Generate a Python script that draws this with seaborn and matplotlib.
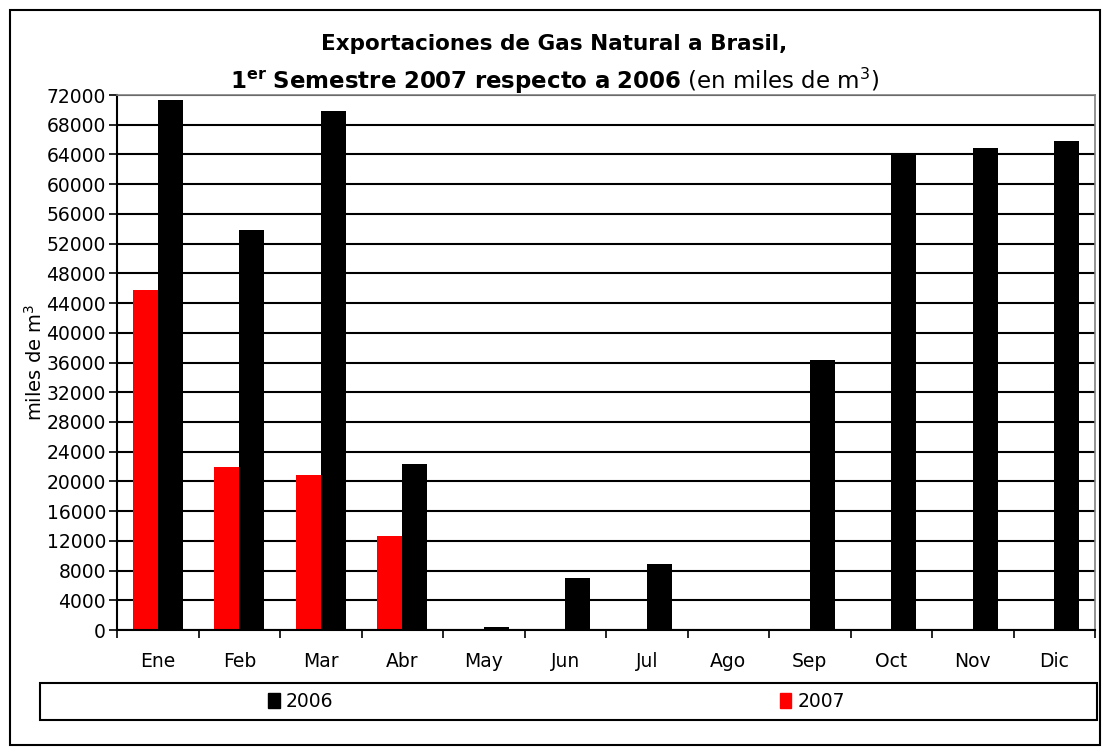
import pandas as pd
import numpy as np
import matplotlib.pyplot as plt
import matplotlib.patches as mpatches
from matplotlib.ticker import MultipleLocator, FixedLocator
import seaborn as sns

# Datos (miles de m3)
meses = ['Ene', 'Feb', 'Mar', 'Abr', 'May', 'Jun', 'Jul', 'Ago', 'Sep', 'Oct', 'Nov', 'Dic']
valores_2006 = [71300, 53800, 69900, 22400, 400, 7050, 8900, 0, 36400, 63900, 64850, 65800]
valores_2007 = [45700, 21900, 20800, 12700]

filas = []
for m, v in zip(meses, valores_2006):
    filas.append({'Mes': m, 'Año': '2006', 'Valor': v})
for m, v in zip(meses, valores_2007):
    filas.append({'Mes': m, 'Año': '2007', 'Valor': v})
df = pd.DataFrame(filas)

sns.set_style('white')
plt.rcParams['font.family'] = ['DejaVu Sans']
plt.rcParams['text.color'] = 'black'
plt.rcParams['axes.labelcolor'] = 'black'
plt.rcParams['xtick.color'] = 'black'
plt.rcParams['ytick.color'] = 'black'

fig = plt.figure(figsize=(11.09, 7.52), dpi=100)
ax = fig.add_axes([0.1055, 0.1622, 0.882, 0.7114])

colores = {'2006': '#000000', '2007': '#FF0000'}
sns.barplot(data=df, x='Mes', y='Valor', hue='Año', order=meses,
            hue_order=['2007', '2006'], palette=colores, width=0.61,
            saturation=1, ax=ax, legend=False, linewidth=0)

ax.set_ylim(0, 72000)
ax.set_xlim(-0.5, 11.5)
ax.yaxis.set_major_locator(MultipleLocator(4000))
ax.set_axisbelow(True)
ax.grid(axis='y', color='black', linewidth=1.5)
ax.grid(axis='x', visible=False)

ax.tick_params(axis='y', direction='out', length=6, width=1.2, color='black',
               labelsize=13.5, labelcolor='black', left=True, pad=2)
ax.tick_params(axis='x', which='major', length=0, labelsize=13.5,
               labelcolor='black', pad=16)
ax.xaxis.set_minor_locator(FixedLocator(np.arange(-0.5, 12, 1)))
ax.tick_params(axis='x', which='minor', direction='out', length=6, width=1.2,
               color='black', bottom=True)

ax.set_xlabel('')
ax.set_ylabel('miles de m$^3$', fontsize=14, labelpad=0, color='black')

for lado in ['left', 'bottom']:
    ax.spines[lado].set_color('black')
    ax.spines[lado].set_linewidth(1.5)
for lado in ['top', 'right']:
    ax.spines[lado].set_color('#808080')
    ax.spines[lado].set_linewidth(1.2)

# Titulo
fig.text(0.5, 0.942, 'Exportaciones de Gas Natural a Brasil,', ha='center', va='center',
         fontsize=15.5, fontweight='bold', color='black')
fig.text(0.5, 0.893, r'$\mathbf{1^{er}\ Semestre\ 2007\ respecto\ a\ 2006}$ (en miles de m$^3$)',
         ha='center', va='center', fontsize=16.5, color='black')

# Leyenda
caja = mpatches.Rectangle((40 / 1109, 1 - 720 / 752), 1057 / 1109, 37 / 752,
                          transform=fig.transFigure, fill=False, edgecolor='black',
                          linewidth=1.5)
fig.patches.append(caja)
manijas = [mpatches.Patch(color='#000000'), mpatches.Patch(color='#FF0000')]
fig.legend(manijas, ['2006', '2007'], loc='center', bbox_to_anchor=(0.502, 1 - 701.5 / 752),
           ncol=2, frameon=False, fontsize=13.5, handlelength=0.6, handleheight=0.8,
           handletextpad=0.35, columnspacing=23.8, labelcolor='black')

# Marco exterior
marco = mpatches.Rectangle((10 / 1109, 7 / 752), 1090 / 1109, 735 / 752,
                           transform=fig.transFigure, fill=False, edgecolor='black',
                           linewidth=1.5)
fig.patches.append(marco)

fig.savefig('out.png', dpi=100, facecolor='white')
